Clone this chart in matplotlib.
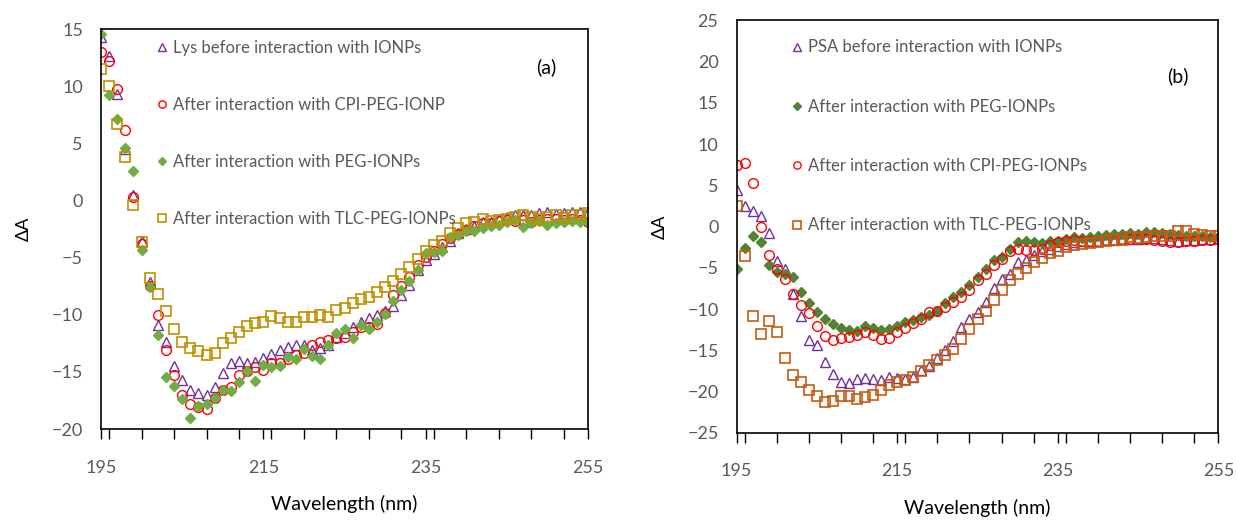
import numpy as np
import matplotlib
matplotlib.use('Agg')
import matplotlib.pyplot as plt
from matplotlib.ticker import MultipleLocator, FixedLocator, NullFormatter

plt.rcParams['font.family'] = ['Lato', 'DejaVu Sans']

wavelength = list(range(195, 256))

# panel (a): lysozyme
lys_a = [14.3, 12.7, 9.3, 4.5, 0.5, -3.5, -7.1, -10.9, -12.4, -14.5,
         -15.7, -16.6, -16.8, -17.0, -16.3, -15.1, -14.2, -14.0, -14.2, -14.1,
         -13.8, -13.4, -13.1, -12.8, -12.6, -12.6, -13.1, -12.9, -12.6, -11.9,
         -11.6, -11.1, -10.6, -10.3, -10.0, -9.7, -9.2, -8.3, -7.4, -6.1,
         -5.2, -4.7, -4.1, -3.5, -2.8, -2.5, -2.2, -1.9, -1.9, -1.6,
         -1.4, -1.3, -1.3, -1.3, -1.1, -1.0, -1.2, -1.1, -1.0, -1.0, -1.0]
cpi_a = [13.0, 12.2, 9.8, 6.2, 0.3, -3.8, -7.5, -10.0, -13.1, -15.3,
         -17.0, -17.8, -18.1, -18.2, -17.3, -16.6, -16.3, -15.3, -14.9, -14.6,
         -14.8, -14.2, -14.2, -13.9, -13.5, -13.3, -12.6, -12.4, -12.2, -12.0,
         -11.9, -11.5, -11.1, -11.1, -10.8, -9.8, -8.3, -7.5, -6.7, -5.6,
         -4.9, -4.4, -3.8, -3.3, -2.9, -2.6, -2.2, -2.0, -2.0, -1.8,
         -1.7, -1.8, -1.7, -1.9, -1.7, -1.6, -1.6, -1.7, -1.6, -1.7, -1.9]
peg_a = [14.6, 9.2, 7.1, 4.6, 2.6, -4.3, -7.6, -11.8, -15.4, -16.2,
         -17.4, -19.0, -18.0, -17.8, -17.3, -16.6, -16.7, -15.9, -14.9, -15.8,
         -14.4, -14.6, -14.5, -13.7, -13.9, -13.0, -13.6, -13.9, -12.6, -11.6,
         -11.2, -12.0, -10.9, -11.2, -10.6, -9.9, -8.8, -7.8, -7.0, -6.1,
         -4.6, -4.5, -4.4, -3.2, -3.0, -2.7, -2.7, -2.4, -2.2, -2.1,
         -1.9, -1.7, -2.3, -2.0, -1.8, -2.1, -2.0, -1.9, -1.8, -1.9, -1.9]
tlc_a = [11.5, 10.0, 6.7, 3.8, -0.4, -3.6, -6.8, -8.2, -9.7, -11.2,
         -12.4, -12.9, -13.2, -13.5, -13.3, -12.5, -12.0, -11.5, -11.0, -10.7,
         -10.6, -10.1, -10.3, -10.6, -10.6, -10.2, -10.2, -10.0, -10.2, -9.6,
         -9.4, -9.0, -8.6, -8.4, -8.0, -7.6, -7.0, -6.4, -5.8, -5.1,
         -4.4, -3.9, -3.5, -2.8, -2.4, -2.0, -1.9, -1.6, -1.8, -1.7,
         -1.6, -1.4, -1.3, -1.4, -1.6, -1.4, -1.3, -1.5, -1.3, -1.3, -1.1]

# panel (b): PSA
psa_b = [4.4, 2.5, 1.9, 1.3, -0.8, -4.2, -5.2, -8.2, -10.8, -13.7,
         -14.4, -16.4, -17.9, -18.8, -19.0, -18.5, -18.4, -18.5, -18.6, -18.3,
         -18.4, -18.5, -18.2, -17.4, -16.9, -15.9, -15.0, -13.9, -12.2, -11.2,
         -10.4, -9.1, -7.5, -6.3, -5.7, -4.3, -4.0, -3.5, -3.0, -2.7,
         -2.3, -2.1, -1.9, -1.8, -1.8, -1.7, -1.6, -1.6, -1.5, -1.5,
         -1.5, -1.4, -1.4, -1.5, -1.6, -1.7, -1.6, -1.6, -1.5, -1.5, -1.4]
peg_b = [-5.1, -2.6, -1.1, -1.9, -4.7, -5.5, -5.8, -6.1, -7.9, -9.3,
         -10.4, -11.2, -11.8, -12.3, -12.6, -12.7, -12.0, -12.3, -12.5, -12.4,
         -12.0, -11.6, -11.3, -11.0, -10.7, -10.2, -9.3, -8.5, -7.9, -7.1,
         -6.1, -5.1, -4.1, -3.7, -2.7, -1.9, -1.8, -1.9, -2.0, -1.8,
         -1.7, -1.5, -1.3, -1.4, -1.3, -1.1, -1.0, -0.9, -0.9, -0.8,
         -0.9, -0.7, -0.7, -0.8, -0.9, -1.0, -1.1, -1.2, -1.2, -1.3, -1.3]
cpi_b = [7.5, 7.7, 5.3, 0.0, -3.5, -5.1, -6.4, -8.2, -9.5, -10.5,
         -12.1, -13.3, -13.7, -13.5, -13.4, -13.2, -12.8, -13.1, -13.6, -13.5,
         -12.8, -12.3, -11.7, -11.2, -10.4, -10.2, -9.8, -9.1, -8.5, -7.7,
         -6.5, -5.7, -4.7, -3.9, -3.0, -2.7, -2.8, -2.9, -2.7, -2.2,
         -1.9, -1.7, -1.6, -1.7, -1.7, -1.7, -1.6, -1.6, -1.5, -1.5,
         -1.5, -1.5, -1.6, -1.7, -1.9, -1.9, -1.8, -1.7, -1.6, -1.6, -1.5]
tlc_b = [2.5, -3.6, -10.9, -13.0, -11.5, -12.8, -15.9, -18.0, -18.8, -19.8,
         -20.5, -21.3, -21.2, -20.6, -20.6, -20.9, -20.7, -20.4, -19.8, -19.2,
         -18.8, -18.6, -18.2, -17.5, -16.8, -16.2, -15.6, -14.8, -13.6, -12.4,
         -11.2, -10.2, -8.9, -7.7, -6.5, -5.7, -5.0, -4.3, -3.8, -3.2,
         -3.0, -2.5, -2.2, -2.1, -2.0, -1.9, -1.8, -1.6, -1.6, -1.3,
         -1.4, -1.3, -1.2, -1.1, -1.1, -0.6, -0.6, -0.9, -1.0, -1.1, -1.2]

GRAY = '#595959'

fig = plt.figure(figsize=(12.38, 5.22), dpi=100)
ax1 = fig.add_axes([0.0816, 0.178, 0.3934, 0.766])
ax2 = fig.add_axes([0.595, 0.171, 0.3892, 0.790])


def style_axis(ax, ylim, yticks):
    ax.set_xlim(195, 255)
    ax.set_ylim(*ylim)
    ax.xaxis.set_major_locator(FixedLocator([195, 215, 235, 255]))
    ax.xaxis.set_minor_locator(MultipleLocator(4))
    ax.xaxis.set_minor_formatter(NullFormatter())
    ax.tick_params(axis='x', which='both', direction='out', length=7, width=1,
                   pad=15, labelsize=13, labelcolor=GRAY)
    ax.set_yticks(yticks)
    ax.tick_params(axis='y', length=0, pad=13, labelsize=13, labelcolor=GRAY)
    for s in ax.spines.values():
        s.set_linewidth(1.2)
        s.set_color('black')
    ax.set_xlabel('Wavelength (nm)', fontsize=14, color='black', labelpad=14)
    ax.set_ylabel('ΔA', fontsize=13, color='black', labelpad=14)


# (a)
ax1.plot(wavelength, lys_a, ls='none', marker='^', ms=7, mfc='none', mec='#7030A0', mew=1,
         label='Lys before interaction with IONPs')
ax1.plot(wavelength, cpi_a, ls='none', marker='o', ms=7, mfc='none', mec='#FF0000', mew=1,
         label='After interaction with CPI-PEG-IONP')
ax1.plot(wavelength, peg_a, ls='none', marker='D', ms=5.5, mfc='#70AD47', mec='#70AD47',
         label='After interaction with PEG-IONPs')
ax1.plot(wavelength, tlc_a, ls='none', marker='s', ms=7.5, mfc='none', mec='#BF9000', mew=1.2,
         label='After interaction with TLC-PEG-IONPs')
style_axis(ax1, (-20, 15), np.arange(-20, 16, 5))
leg1 = ax1.legend(loc='upper left', bbox_to_anchor=(0.08, 1.01), frameon=False, fontsize=12,
                  labelspacing=2.45, handletextpad=0.3, handlelength=0.8, markerscale=0.75)
for t in leg1.get_texts():
    t.set_color(GRAY)
ax1.text(0.915, 0.905, '(a)', transform=ax1.transAxes, fontsize=14, ha='center', va='center')

# (b)
ax2.plot(wavelength, psa_b, ls='none', marker='^', ms=7, mfc='none', mec='#7030A0', mew=1,
         label='PSA before interaction with IONPs')
ax2.plot(wavelength, peg_b, ls='none', marker='D', ms=5.5, mfc='#548235', mec='#548235',
         label='After interaction with PEG-IONPs')
ax2.plot(wavelength, cpi_b, ls='none', marker='o', ms=7, mfc='none', mec='#FF0000', mew=1,
         label='After interaction with CPI-PEG-IONPs')
ax2.plot(wavelength, tlc_b, ls='none', marker='s', ms=7.5, mfc='none', mec='#C55A11', mew=1.2,
         label='After interaction with TLC-PEG-IONPs')
style_axis(ax2, (-25, 25), np.arange(-25, 26, 5))
leg2 = ax2.legend(loc='upper left', bbox_to_anchor=(0.08, 0.99), frameon=False, fontsize=12,
                  labelspacing=2.6, handletextpad=0.3, handlelength=0.8, markerscale=0.75)
for t in leg2.get_texts():
    t.set_color(GRAY)
ax2.text(0.915, 0.865, '(b)', transform=ax2.transAxes, fontsize=14, ha='center', va='center')

fig.savefig('out.png', dpi=100)
